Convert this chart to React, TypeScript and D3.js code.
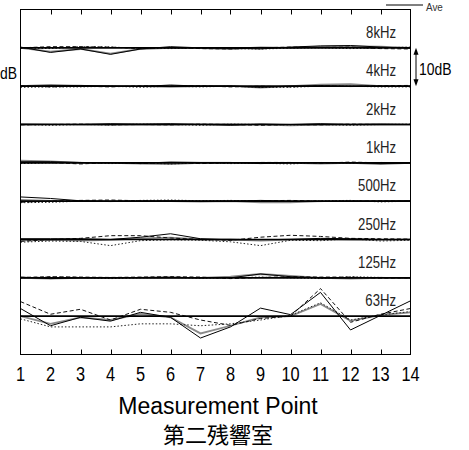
import React from "react";
import * as d3 from "d3";

const points = [1, 2, 3, 4, 5, 6, 7, 8, 9, 10, 11, 12, 13, 14];
const bandLabels = ["8kHz", "4kHz", "2kHz", "1kHz", "500Hz", "250Hz", "125Hz", "63Hz"];

// deviations from average (dB), per band top -> bottom
const solidSeries = [
  [0.2, -1.2, -0.3, -1.7, -0.3, 0.3, 0, -0.1, -0.3, 0.2, 0.5, 0.6, 0.2, -0.1],
  [0, 0.1, 0.2, 0, -0.1, 0.3, 0, 0, -0.3, 0, 0.1, -0.1, 0, -0.1],
  [0.1, 0, 0, 0.2, 0.1, 0.2, 0, -0.2, 0.1, 0, 0.2, 0, 0.1, 0],
  [0.3, 0.3, 0.1, 0, -0.1, 0.2, 0.1, 0.1, -0.2, 0, 0, 0, -0.2, -0.1],
  [1.1, 0.7, 0.1, -0.1, 0, 0.1, 0, 0, 0.2, 0, -0.1, 0, 0, 0.1],
  [0.2, 0.2, 0.2, 0, 0.6, 1.5, 0.2, -0.1, 0, 0, 0.3, 0.2, 0, 0],
  [0.2, -0.2, 0, 0, 0.1, 0.2, 0, 0, 1.0, 0.3, 0, 0, 0.1, 0],
  [2.0, -2.5, -0.3, -1.3, 1.0, -0.3, -5.7, -2.8, 2.1, 0.4, 6.2, -3.6, 0.2, 4.0],
];
const dashedSeries = [
  [0, 0.3, 0.3, 0.2, -0.2, 0.1, -0.2, -0.3, 0, 0.2, 0.1, 0.2, -0.2, -0.3],
  [0.1, -0.2, 0, -0.2, 0.1, 0, 0.1, -0.2, 0, -0.2, 0.1, -0.1, 0.1, 0.2],
  [-0.1, 0, 0.1, -0.1, 0, -0.1, 0.1, 0, -0.2, 0, -0.1, 0.1, 0, 0],
  [0, 0.1, -0.3, 0.1, -0.2, 0.1, -0.2, 0, 0.1, 0.1, -0.1, 0.2, 0, 0],
  [-0.3, 0, 0.2, 0.3, 0.1, 0, 0, 0, 0.1, 0.2, 0, 0, 0.1, 0],
  [-0.5, 0, 0.3, 1.0, 1.0, 0.4, 0, -0.2, 0.6, 1.1, 0.8, 0.3, 0.2, 0.1],
  [0.1, 0.3, 0.2, 0.1, 0.2, 0.3, 0.2, -0.2, 0.1, 0.3, 0.2, 0.2, -0.1, 0],
  [3.8, 0.5, 1.8, -1.0, 1.8, 1.0, -1.0, -2.4, -0.6, 0.0, 7.2, -1.6, 0.5, 2.0],
];
const dottedSeries = [
  [0, -0.2, 0.3, 0.2, -0.1, -0.2, 0, -0.2, -0.3, -0.1, 0, -0.2, 0, 0.2],
  [-0.3, -0.2, -0.2, 0, -0.3, 0, -0.2, 0, -0.3, -0.3, 0, 0, -0.2, -0.2],
  [0, -0.2, 0, -0.1, 0.1, 0, -0.2, 0.1, 0, -0.1, 0, -0.2, 0, 0.1],
  [-0.2, 0, 0.1, -0.2, 0, -0.3, 0, -0.2, -0.1, -0.3, 0.1, -0.1, 0.1, 0],
  [-0.4, -0.3, 0, -0.1, 0.2, 0.3, 0.1, 0.2, 0, -0.1, 0.1, 0.2, -0.2, 0],
  [-0.7, -0.4, -0.5, -1.6, -0.3, -0.1, -0.2, -0.6, -1.6, -0.2, -0.3, 0.2, -0.4, -0.2],
  [0, 0.2, 0.1, -0.2, 0, 0.1, -0.1, 0, 0.2, 0, -0.2, 0.3, 0.1, 0],
  [-0.7, -2.8, -2.8, -2.8, -2.0, -2.0, -2.5, -2.0, -1.0, 0.2, 3.5, -1.0, 0.3, 1.2],
];
const graySeries = [
  [0, -1.0, -0.3, -1.5, -0.3, 0, -0.1, -0.3, 0.1, 0, 0.3, 0.4, 0.3, 0],
  [0, 0.3, 0.1, 0, 0, -0.2, 0, 0.1, -0.4, 0, 0.4, 0.5, 0, 0.1],
  [0, 0.1, 0, 0, 0, 0, 0.1, 0, 0, -0.2, 0, 0, 0, 0],
  [0.6, 0.4, 0, 0, -0.2, -0.3, 0, 0, 0, 0, -0.2, 0, -0.3, 0],
  [0.3, 0.1, 0, 0, 0, 0, -0.1, 0, -0.3, -0.3, 0, 0, 0, 0.1],
  [-0.2, -0.1, -0.3, -0.1, 0.3, 0.5, 0, 0, -0.3, 0, 0.1, 0, -0.1, 0],
  [0, -0.2, 0, 0, 0, 0, 0, 0.3, 1.0, 0.5, 0, -0.2, 0, 0],
  [0.0, -2.0, -0.3, -1.0, 0.6, -0.3, -4.5, -2.5, -0.3, 0.0, 3.2, -1.2, 0.3, 1.0],
];
const xTickLabels = ["1", "2", "3", "4", "5", "6", "7", "8", "9", "10", "11", "12", "13", "14"];

const W = 469;
const H = 450;
const left = 20.5;
const right = 410.5;
const top = 9.5;
const bottom = 354.5;
const nBands = bandLabels.length;

const FONT = "'Liberation Sans', Arial, sans-serif";

function Narrow({ x, y, size, sx, anchor = "start", children, fill = "#000", weight = 400 }: any) {
  return (
    <text
      transform={`translate(${x},${y}) scale(${sx},1)`}
      fontFamily={FONT}
      fontSize={size}
      fontWeight={weight}
      textAnchor={anchor}
      fill={fill}
    >
      {children}
    </text>
  );
}

export default function App() {
  const x = d3.scaleLinear().domain([1, 14]).range([left, right]);
  // stacked dB axis: each band occupies 10 dB
  const y = d3.scaleLinear().domain([0, (nBands + 1) * 10]).range([bottom, top]);
  const baseVal = (i: number) => (nBands - i) * 10;

  const lineFor = (i: number) =>
    d3
      .line<number>()
      .x((_, k) => x(points[k]))
      .y((v) => y(baseVal(i) + v));

  const styles = [
    { data: graySeries, stroke: "#8a8a8a", width: 1.8, dash: undefined },
    { data: dottedSeries, stroke: "#222", width: 1, dash: "1.5,2" },
    { data: dashedSeries, stroke: "#111", width: 1, dash: "4,2.5" },
    { data: solidSeries, stroke: "#000", width: 1, dash: undefined },
  ];

  const arrowX = 416;
  const aTop = y(baseVal(0));
  const aBot = y(baseVal(1));

  return (
    <svg
      width={W}
      height={H}
      style={{ position: "absolute", left: 0, top: 0, background: "#fff" }}
    >
      <rect x={0} y={0} width={W} height={H} fill="#fff" />
      {/* series */}
      {bandLabels.map((lab, i) => (
        <g key={lab}>
          {styles.map((s, j) => (
            <path
              key={j}
              d={lineFor(i)(s.data[i]) || ""}
              fill="none"
              stroke={s.stroke}
              strokeWidth={s.width}
              strokeDasharray={s.dash}
            />
          ))}
          <line
            x1={left}
            x2={right}
            y1={y(baseVal(i))}
            y2={y(baseVal(i))}
            stroke="#000"
            strokeWidth={1.6}
          />
          <Narrow x={396} y={y(baseVal(i)) - 10} size={16} sx={0.82} fill="#222">
            <tspan textAnchor="end">{lab}</tspan>
          </Narrow>
        </g>
      ))}
      {/* frame */}
      <rect
        x={left}
        y={top}
        width={right - left}
        height={bottom - top}
        fill="none"
        stroke="#000"
        strokeWidth={1}
      />
      {points.slice(1, -1).map((p) => (
        <g key={p}>
          <line x1={Math.round(x(p)) + 0.5} x2={Math.round(x(p)) + 0.5} y1={top} y2={top + 5} stroke="#000" />
          <line x1={Math.round(x(p)) + 0.5} x2={Math.round(x(p)) + 0.5} y1={bottom} y2={bottom - 5} stroke="#000" />
        </g>
      ))}
      {xTickLabels.map((t, k) => (
        <Narrow key={t} x={x(points[k])} y={381} size={21} sx={0.78} anchor="middle">
          {t}
        </Narrow>
      ))}
      {/* 10dB scale arrow right */}
      <line x1={arrowX} x2={arrowX} y1={aTop + 3} y2={aBot - 3} stroke="#000" strokeWidth={1} />
      <path d={`M${arrowX},${aTop} l-2.5,7 l5,0 Z`} fill="#000" />
      <path d={`M${arrowX},${aBot} l-2.5,-7 l5,0 Z`} fill="#000" />
      <Narrow x={419} y={aTop + 27} size={17} sx={0.82}>
        10dB
      </Narrow>
      {/* left scale label (partly outside the page in the original) */}
      <Narrow x={0} y={aTop + 31} size={17} sx={0.82}>
        dB
      </Narrow>
      {/* legend */}
      <line x1={386} x2={423} y1={5} y2={5} stroke="#000" strokeWidth={1} />
      <Narrow x={426} y={11} size={11} sx={0.9} fill="#333">
        Ave
      </Narrow>
      {/* axis titles */}
      <text
        x={218}
        y={414}
        fontFamily={FONT}
        fontSize={23}
        textAnchor="middle"
        fill="#000"
      >
        Measurement Point
      </text>
      <text
        x={218}
        y={443}
        fontFamily="'Noto Sans CJK JP', 'Noto Sans CJK SC', sans-serif"
        fontSize={22}
        textAnchor="middle"
        fill="#000"
      >
        第二残響室
      </text>
    </svg>
  );
}
